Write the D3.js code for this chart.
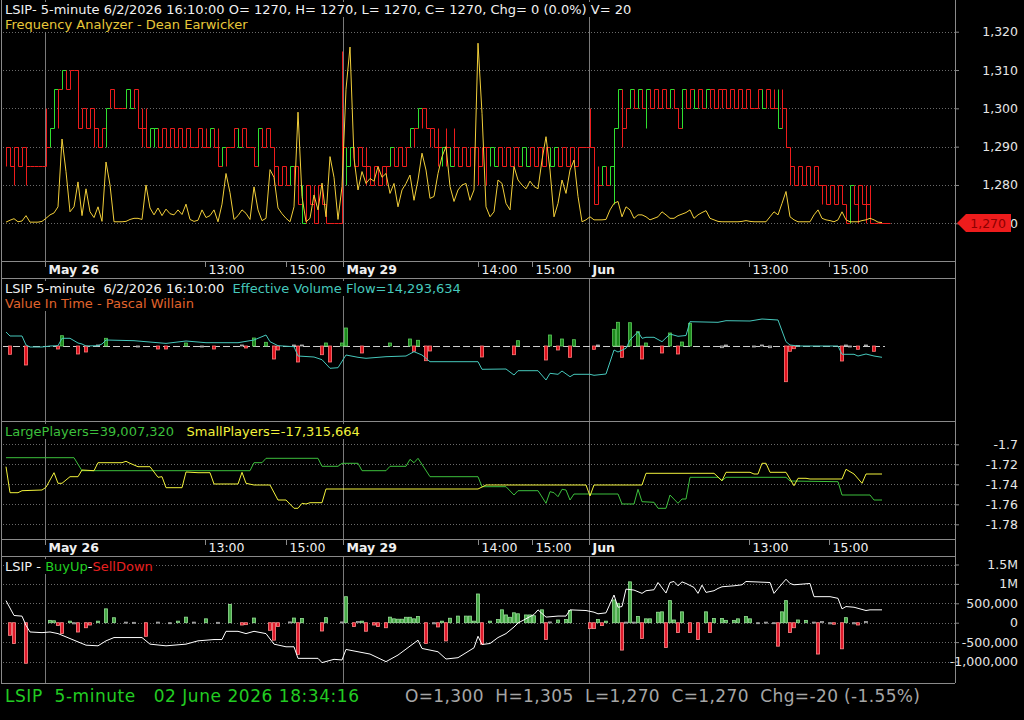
<!DOCTYPE html>
<html>
<head>
<meta charset="utf-8">
<script src="https://cdn.jsdelivr.net/npm/d3@7"></script>
<style>
  html, body { margin: 0; padding: 0; background: #000; }
  svg { display: block; }
  text { white-space: pre; }
</style>
</head>
<body>
<svg id="chart" width="1024" height="720"></svg>
<script>
// ---- price bars (5-minute), bar index 0..219 ----
const hi = [
1290,1290,1290,1290,1290,1290,1285,1285,1285,1285,
1300,1295,1305,1305,1310,1310,1310,1310,1310,1300,
1300,1300,1300,1295,1295,1300,1305,1305,1300,1300,
1305,1305,1305,1305,1300,1300,1295,1295,1295,1295,
1295,1295,1295,1295,1295,1295,1295,1290,1295,1295,
1295,1295,1295,1295,1290,1290,1290,1295,1295,1295,
1295,1290,1290,1295,1295,1295,1295,1290,1285,1285,
1285,1285,1285,1285,1280,1280,1280,1280,1280,1280,
1275,1270,1270,1270,1315,1290,1290,1290,1290,1290,
1290,1285,1285,1285,1285,1285,1290,1290,1290,1290,
1290,1295,1295,1300,1300,1300,1295,1295,1295,1290,
1295,1290,1295,1290,1290,1290,1290,1290,1290,1290,
1290,1290,1290,1290,1290,1290,1290,1290,1290,1290,
1290,1290,1290,1290,1290,1290,1290,1290,1290,1290,
1290,1290,1290,1290,1290,1290,1300,1290,1285,1285,
1285,1285,1295,1305,1305,1300,1305,1305,1305,1305,
1305,1305,1305,1305,1305,1305,1305,1305,1300,1305,
1305,1305,1305,1305,1305,1305,1305,1305,1305,1305,
1305,1305,1305,1305,1305,1305,1305,1300,1305,1305,
1305,1305,1305,1305,1305,1300,1290,1285,1285,1285,
1285,1285,1285,1285,1280,1280,1280,1280,1280,1280,
1275,1280,1280,1280,1280,1280,1280,1270,1270,1270];
const lo = [
1285,1285,1280,1285,1285,1280,1285,1285,1285,1285,
1285,1290,1295,1295,1305,1305,1305,1310,1295,1295,
1295,1295,1290,1290,1290,1290,1300,1300,1300,1300,
1300,1300,1300,1295,1290,1290,1290,1290,1290,1290,
1290,1290,1290,1290,1290,1290,1290,1290,1290,1290,
1290,1290,1290,1285,1285,1285,1290,1290,1290,1290,
1290,1290,1285,1285,1290,1290,1290,1280,1280,1280,
1280,1280,1280,1275,1270,1270,1275,1270,1270,1275,
1270,1270,1270,1270,1270,1280,1285,1285,1285,1285,
1280,1280,1280,1280,1280,1280,1285,1285,1285,1285,
1285,1290,1290,1295,1295,1295,1290,1290,1285,1285,
1285,1285,1285,1285,1285,1285,1285,1285,1280,1285,
1280,1285,1285,1285,1285,1285,1285,1285,1285,1285,
1285,1285,1285,1285,1285,1285,1285,1285,1285,1285,
1285,1285,1285,1285,1290,1290,1290,1275,1275,1280,
1280,1280,1275,1295,1290,1295,1300,1300,1300,1300,
1295,1300,1300,1300,1300,1300,1300,1300,1295,1295,
1300,1300,1300,1300,1300,1300,1300,1300,1300,1300,
1300,1300,1300,1300,1300,1300,1300,1300,1300,1300,
1300,1300,1300,1295,1295,1290,1280,1280,1280,1280,
1280,1280,1280,1280,1275,1275,1275,1275,1275,1275,
1270,1270,1275,1270,1275,1270,1270,1270,1270,1270];
const cl = [
1290,1285,1290,1285,1290,1285,1285,1285,1285,1285,
1290,1295,1305,1305,1310,1305,1310,1310,1295,1300,
1295,1300,1295,1290,1295,1300,1305,1300,1300,1300,
1305,1300,1305,1295,1295,1290,1295,1295,1290,1295,
1290,1295,1290,1295,1290,1295,1290,1290,1295,1290,
1290,1295,1290,1285,1290,1290,1290,1295,1290,1295,
1290,1290,1285,1295,1290,1295,1290,1285,1280,1285,
1280,1285,1285,1275,1270,1280,1275,1270,1280,1275,
1270,1270,1270,1270,1290,1285,1290,1285,1290,1285,
1285,1280,1285,1280,1285,1285,1290,1285,1290,1285,
1290,1295,1295,1300,1300,1295,1295,1290,1290,1290,
1290,1285,1290,1285,1290,1285,1290,1290,1285,1290,
1290,1290,1285,1290,1285,1290,1285,1290,1285,1290,
1285,1290,1285,1290,1285,1290,1285,1290,1285,1290,
1285,1290,1285,1290,1290,1290,1290,1275,1280,1285,
1280,1285,1295,1305,1295,1300,1305,1300,1305,1300,
1305,1300,1305,1300,1305,1300,1305,1300,1295,1305,
1300,1305,1300,1305,1300,1305,1305,1300,1305,1305,
1300,1305,1300,1305,1300,1305,1300,1300,1305,1300,
1305,1300,1300,1295,1300,1290,1285,1280,1285,1280,
1285,1280,1285,1280,1280,1275,1280,1275,1280,1275,
1270,1280,1275,1280,1275,1275,1270,1270,1270,1270];
// bars drawn green (up), all others red
const greenBars = [11,12,14,25,30,31,36,37,51,54,58,63,71,74,85,86,96,101,103,109,111,
  121,122,129,130,136,137,149,151,152,153,156,158,160,166,169,172,175,189,193,211];

// Frequency Analyzer (plotted on the price scale)
const freq = [
1270.3,1270.8,1271.2,1270.4,1270.6,1272,1270.3,1270.3,1270.3,1270.5,
1271.3,1272.2,1272.7,1274.3,1292,1283.5,1273,1274.3,1280.8,1272,
1279,1273,1271.5,1274.3,1270.5,1286,1280,1270.4,1270.4,1270.4,
1270.5,1271,1271.3,1271.3,1271,1280,1274,1272.2,1274,1272,
1273.7,1272.5,1272.2,1273.5,1272.3,1275,1271,1270.5,1270.8,1273.5,
1271.5,1272,1273.5,1270.4,1275,1283,1278,1271,1272,1273.5,
1272.6,1271,1279.5,1273.5,1270.7,1271.3,1284,1282,1274,1272.5,
1271.3,1270.4,1274.3,1299,1277,1270.4,1271.3,1277.4,1273.5,1280.5,
1271.7,1287.4,1282,1271,1279.6,1305,1316,1287,1278.7,1283.5,
1280.4,1281.7,1281,1284.8,1282,1283,1277.8,1280.4,1274.3,1278.7,
1280.4,1282.6,1276,1281.3,1288.3,1283.9,1276.5,1277,1283,1287.4,
1290,1279.6,1275.7,1278.7,1280,1280.4,1276,1278.7,1317,1298.7,
1274.3,1271.7,1273,1281.3,1280.4,1275.2,1273.5,1284.8,1281.3,1280,
1279,1281,1279.6,1279,1286.5,1292.6,1283.9,1271.7,1275.2,1281.3,
1277.8,1283.9,1286.5,1277,1270.4,1270.9,1271.7,1270.9,1270.9,1270.9,
1271,1273.5,1275.2,1275.7,1271.7,1274.3,1273.5,1271.3,1272.2,1272.2,
1271.7,1270.9,1271.3,1271.7,1273,1272.2,1271.3,1271.3,1272,1272.4,
1272.8,1273.5,1271.3,1272.2,1272.8,1273.3,1271.3,1270.9,1270.5,1270.4,
1270.4,1270.4,1270.4,1270.4,1270.5,1270.7,1270.5,1270.4,1270.4,1270.4,
1270.4,1271.7,1273,1272.2,1275.2,1278.3,1271.7,1270.9,1270.4,1270.4,
1270.4,1270.4,1272.2,1273.5,1271.3,1270.9,1270.7,1270.4,1270.9,1273,
1270.9,1270.4,1270.4,1270.4,1270.7,1270.9,1271.3,1270.9,1270.3,1270.2];

// Value In Time histogram: [bar, value]
const vitBars = [[1,-8.3],[5,-19],[13,-3],[14,10.3],[18,-8],[20,-6],[23,1],[25,7.7],[33,-1],[38,-3],
  [40,-3],[45,3],[49,-1],[52,-3],[59,1],[60,-2],[62,8],[65,3.7],[67,-13],[68,-4],[72,1],[73,-16],
  [74,1],[79,-8.7],[80,3],[81,-16],[84,3],[85,18],[89,-7],[96,3],[101,7],[102,-5.3],[103,5.7],
  [105,-14.7],[106,-5],[119,-11],[127,-8.7],[128,5.3],[135,-14],[136,11],[138,-4],[139,7],
  [141,-11.3],[142,6.3],[147,-3.3],[148,1],[152,16.7],[153,23.7],[154,-11.3],[156,23.3],[158,14.3],
  [159,-13],[160,3],[164,-7],[166,13],[168,-8],[169,4],[171,22.7],[179,-1.7],[180,1],[187,-1],
  [189,1],[191,-1.7],[195,-35.7],[196,-5.3],[197,-2.7],[198,0.5],[209,-15],[210,1],[211,-0.7],
  [213,-3.3],[215,1],[217,-5.3]];
// Effective Volume Flow line: [bar, value]
const evf = [[0,14],[1,10],[4,10],[5,1],[6,-1],[9,-1],[11,0],[13,0.3],[14,7.7],[16,7.7],[18,3],
  [19,2],[20,0],[23,0.3],[24,2],[25,6],[32,5.3],[40,2.6],[45,5],[50,3.3],[58,3.3],[62,6],[65,11],
  [66,4.3],[68,0.3],[72,-0.7],[73,-10],[77,-11],[79,-13.7],[81,-22.3],[83,-21.7],[85,-9],[88,-11.3],
  [90,-12.3],[95,-10.7],[100,-10],[102,-5.7],[104,-9],[106,-15.7],[118,-15.7],[119,-23.3],[125,-23],
  [127,-29],[128,-24.7],[133,-24.7],[135,-34],[136,-27.3],[138,-28.3],[139,-25],[141,-30.7],
  [142,-28.3],[146,-28.3],[147,-29.3],[150,-28],[152,-4],[153,-6],[155,-2.3],[156,6],[158,14.3],
  [159,7.7],[160,8.7],[162,8.7],[164,4.3],[166,12],[168,9.7],[170,10.5],[171,24.3],[178,23.7],
  [180,25.3],[186,25],[189,27],[193,26],[195,4.3],[196,1],[198,0],[208,0],[209,-8.3],[212,-8.3],
  [213,-10],[215,-8],[217,-10],[219,-11.3]];

// Large / Small players: [bar, value]
const largePlayers = [[0,-1.7134],[17,-1.7134],[18,-1.72],[19,-1.7264],[61,-1.7264],[62,-1.7184],
  [64,-1.7184],[65,-1.714],[78,-1.714],[79,-1.722],[83,-1.722],[84,-1.719],[88,-1.719],[89,-1.7264],
  [95,-1.7264],[96,-1.722],[100,-1.722],[101,-1.715],[102,-1.7184],[103,-1.714],[106,-1.7324],
  [118,-1.7324],[119,-1.7424],[125,-1.7424],[127,-1.7507],[128,-1.7464],[133,-1.7464],[135,-1.759],
  [136,-1.7474],[137,-1.7484],[138,-1.7524],[139,-1.745],[140,-1.7457],[141,-1.7557],[142,-1.7497],
  [153,-1.7497],[154,-1.7597],[157,-1.7597],[158,-1.745],[159,-1.7574],[162,-1.758],[163,-1.764],
  [165,-1.764],[166,-1.7507],[168,-1.759],[169,-1.7547],[170,-1.7547],[171,-1.733],[178,-1.733],
  [179,-1.7364],[180,-1.733],[195,-1.733],[196,-1.7367],[208,-1.7374],[209,-1.7507],[216,-1.7507],
  [217,-1.7557],[219,-1.7557]];
const smallPlayers = [[0,-1.7224],[1,-1.7484],[3,-1.7484],[4,-1.7464],[9,-1.7457],[10,-1.743],
  [11,-1.7357],[12,-1.7284],[13,-1.739],[14,-1.739],[16,-1.7324],[18,-1.7324],[19,-1.7257],
  [22,-1.7264],[23,-1.7184],[29,-1.7184],[30,-1.717],[31,-1.719],[33,-1.7224],[36,-1.7224],
  [38,-1.733],[39,-1.7324],[40,-1.7434],[44,-1.7434],[45,-1.7277],[48,-1.7284],[51,-1.7284],
  [52,-1.7397],[58,-1.7397],[59,-1.728],[60,-1.739],[62,-1.7407],[66,-1.7407],[68,-1.7557],
  [70,-1.7557],[72,-1.764],[73,-1.764],[74,-1.759],[75,-1.7597],[76,-1.7584],[79,-1.7584],
  [80,-1.7447],[118,-1.7447],[120,-1.7407],[145,-1.7407],[146,-1.7517],[147,-1.7407],[159,-1.7407],
  [160,-1.729],[177,-1.729],[179,-1.7364],[180,-1.728],[186,-1.728],[187,-1.7297],[188,-1.7297],
  [189,-1.719],[190,-1.719],[191,-1.728],[195,-1.728],[197,-1.7414],[198,-1.734],[200,-1.734],
  [201,-1.7347],[209,-1.7347],[210,-1.725],[212,-1.7297],[214,-1.739],[215,-1.7297],[219,-1.7297]];

// BuyUp-SellDown histogram (thousands): [bar, value]
const buyBars = [[1,-325],[2,-535],[5,-1045],[11,60],[12,50],[13,-70],[14,-280],[16,40],[17,-30],
  [18,-240],[20,-130],[21,-60],[23,40],[25,357],[27,128],[30,15],[32,10],[35,-350],[38,15],[41,-15],
  [43,40],[45,143],[47,15],[50,100],[53,10],[56,467],[59,-60],[60,-50],[62,120],[66,-196],[67,-450],
  [68,-100],[71,20],[72,120],[73,-816],[74,110],[79,-214],[80,130],[84,20],[85,670],[87,-100],
  [88,30],[89,40],[90,-220],[92,-60],[93,-100],[95,-130],[96,143],[97,100],[98,90],[99,90],
  [100,140],[101,140],[102,100],[103,160],[105,-535],[107,-30],[108,-110],[109,40],[110,-470],
  [111,115],[113,170],[115,170],[116,170],[117,40],[118,740],[119,-553],[121,40],[123,80],[124,332],
  [125,200],[126,140],[127,255],[128,230],[130,200],[131,200],[132,180],[134,332],[135,-433],
  [136,20],[138,70],[140,80],[141,314],[146,-153],[147,-153],[148,80],[149,-75],[150,40],[152,587],
  [153,500],[154,-706],[155,15],[156,1053],[157,15],[158,160],[159,-408],[160,100],[161,100],
  [163,270],[164,280],[165,-638],[166,569],[167,70],[168,-255],[169,280],[171,-255],[173,-433],
  [175,280],[176,-255],[177,110],[179,110],[180,60],[182,60],[183,100],[185,160],[186,100],
  [188,-20],[190,15],[192,-15],[193,-605],[194,280],[195,569],[196,-255],[197,-130],[198,70],
  [200,60],[202,15],[203,-808],[204,30],[206,-30],[207,-40],[209,-673],[210,130],[212,-30],
  [213,-60],[215,30]];
// cumulative line (thousands): [bar, value]
const buyLine = [[0,569],[2,186],[4,169],[5,-69],[6,-239],[9,-256],[11,-239],[13,-281],[15,-366],
  [18,-494],[20,-579],[23,-596],[25,-468],[27,-383],[34,-383],[36,-553],[40,-596],[45,-553],
  [48,-468],[52,-434],[54,-434],[55,-222],[58,-222],[60,-281],[62,-222],[65,-281],[67,-553],
  [70,-621],[72,-621],[73,-919],[78,-919],[79,-1029],[82,-944],[84,-961],[85,-689],[88,-749],
  [91,-808],[95,-1004],[98,-834],[103,-451],[104,-664],[106,-706],[108,-749],[110,-936],[113,-902],
  [117,-647],[118,-349],[119,-562],[121,-536],[123,-383],[125,-281],[127,-111],[128,-9],[130,101],
  [132,212],[133,331],[135,144],[138,171],[140,171],[141,331],[145,314],[147,271],[148,229],
  [150,254],[151,484],[152,713],[153,399],[154,416],[155,866],[157,841],[159,756],[160,824],
  [162,849],[163,1036],[165,764],[166,1036],[167,1062],[168,951],[169,1053],[170,1011],[172,909],
  [173,756],[174,968],[175,781],[177,824],[178,883],[179,926],[182,951],[184,977],[185,1062],
  [191,1036],[192,756],[193,883],[195,1121],[196,1011],[197,977],[201,1011],[202,671],[206,671],
  [208,628],[209,356],[210,416],[212,399],[215,314],[216,331],[219,331]];

// time axis
const tickPos = [9.75, 49.75, 70, 84.25, 118, 131.5, 145.75, 185.75, 205.75];
const tickLabels = ['May 26', '13:00', '15:00', 'May 29', '14:00', '15:00', 'Jun', '13:00', '15:00'];
const dayTicks = [9.75, 84.25, 145.75];

// value axes
const priceTicks = [1320, 1310, 1300, 1290, 1280, 1270];
const playerTicks = [-1.7, -1.72, -1.74, -1.76, -1.78];
const playerLabels = ['-1.7', '-1.72', '-1.74', '-1.76', '-1.78'];
const buyTicks = [1500, 1000, 500, 0, -500, -1000];
const buyLabels = ['1.5M', '1M', '500,000', '0', '-500,000', '-1,000,000'];
const lastPrice = 1270;

// ---------------------------------------------------------------
const FONT = '"DejaVu Sans", Verdana, sans-serif';
const svg = d3.select('#chart').attr('font-family', FONT);
svg.append('rect').attr('width', 1024).attr('height', 720).attr('fill', '#000');

const plotL = 1, plotR = 955;
const x = d3.scaleLinear().domain([0, 219]).range([6, 882]);

const yPrice = d3.scaleLinear().domain([1270, 1320]).range([223.3, 31.7]);
const yVit = d3.scaleLinear().domain([-60, 60]).range([406, 286]);
const yPl = d3.scaleLinear().domain([-1.78, -1.7]).range([524.3, 444.3]);
const yBuy = d3.scaleLinear().domain([-1000, 1500]).range([661.5, 564.5]);

const panels = [
  { top: 0, bottom: 261 },
  { top: 278, bottom: 421 },
  { top: 421, bottom: 539 },
  { top: 556, bottom: 683 }
];

const GREEN = '#2fe02f', RED = '#ee1c1c';

// gridlines
function grid(scale, values) {
  svg.append('g').selectAll('line').data(values).join('line')
    .attr('x1', plotL + 2).attr('x2', plotR)
    .attr('y1', d => Math.round(scale(d)) + 0.5).attr('y2', d => Math.round(scale(d)) + 0.5)
    .attr('stroke', '#6a6a6a').attr('stroke-dasharray', '1,2');
}
grid(yPrice, priceTicks);
grid(yPl, playerTicks);
grid(yBuy, buyTicks);

// day separators
panels.forEach(p => {
  svg.append('g').selectAll('line').data(dayTicks).join('line')
    .attr('x1', d => Math.round(x(d)) + 0.5).attr('x2', d => Math.round(x(d)) + 0.5)
    .attr('y1', p.top).attr('y2', p.bottom)
    .attr('stroke', '#7a7a7a');
});

// ---- panel 1 : price steps ----
const gPrice = svg.append('g');
const isGreen = new Set(greenBars);
const bars = d3.range(hi.length);
gPrice.selectAll('path').data(bars).join('path')
  .attr('d', i => {
    const xi = Math.round(x(i)) + 0.5;
    const xn = i < hi.length - 1 ? Math.round(x(i + 1)) + 0.5 : xi + 8;
    const yc = Math.round(yPrice(cl[i])) + 0.5;
    return `M${xi},${Math.round(yPrice(lo[i])) + 0.5}V${Math.round(yPrice(hi[i])) + 0.5}M${xi},${yc}H${xn}`;
  })
  .attr('fill', 'none')
  .attr('stroke', i => isGreen.has(i) ? GREEN : RED)
  .attr('stroke-width', 1);

gPrice.append('path').datum(freq)
  .attr('d', d3.line().x((d, i) => x(i)).y(d => yPrice(d)))
  .attr('fill', 'none').attr('stroke', '#f2cf3a').attr('stroke-width', 1);

// ---- panel 2 : value in time + EVF ----
const gVit = svg.append('g');
gVit.append('line')
  .attr('x1', 3).attr('x2', x(219) + 3)
  .attr('y1', Math.round(yVit(0)) + 0.5).attr('y2', Math.round(yVit(0)) + 0.5)
  .attr('stroke', '#cfcfcf').attr('stroke-dasharray', '7,3');
gVit.selectAll('rect').data(vitBars).join('rect')
  .attr('x', d => Math.round(x(d[0])) - 1.5)
  .attr('width', 3)
  .attr('y', d => Math.min(yVit(d[1]), yVit(0)))
  .attr('height', d => Math.max(1, Math.abs(yVit(d[1]) - yVit(0))))
  .attr('fill', d => Math.abs(d[1]) < 2 ? '#555' : d[1] > 0 ? '#1c8a1c' : '#e0101c')
  .attr('stroke', d => Math.abs(d[1]) < 2 ? '#bbb' : d[1] > 0 ? '#5cc85c' : '#ff7a7a')
  .attr('stroke-width', 0.8);
gVit.append('path').datum(evf)
  .attr('d', d3.line().x(d => x(d[0])).y(d => yVit(d[1])))
  .attr('fill', 'none').attr('stroke', '#46c8bc').attr('stroke-width', 1);

// ---- panel 3 : players ----
const gPl = svg.append('g');
gPl.append('path').datum(largePlayers)
  .attr('d', d3.line().x(d => x(d[0])).y(d => yPl(d[1])))
  .attr('fill', 'none').attr('stroke', '#3cbf3c').attr('stroke-width', 1);
gPl.append('path').datum(smallPlayers)
  .attr('d', d3.line().x(d => x(d[0])).y(d => yPl(d[1])))
  .attr('fill', 'none').attr('stroke', '#f2f23c').attr('stroke-width', 1);

// ---- panel 4 : BuyUp - SellDown ----
const gBuy = svg.append('g');
gBuy.selectAll('rect').data(buyBars).join('rect')
  .attr('x', d => Math.round(x(d[0])) - 1.5)
  .attr('width', 3)
  .attr('y', d => Math.min(yBuy(d[1]), yBuy(0)))
  .attr('height', d => Math.max(1, Math.abs(yBuy(d[1]) - yBuy(0))))
  .attr('fill', d => Math.abs(d[1]) < 35 ? '#666' : d[1] > 0 ? '#46a846' : '#e0182a')
  .attr('stroke', d => Math.abs(d[1]) < 35 ? '#aaa' : d[1] > 0 ? '#96e096' : '#ff8c8c')
  .attr('stroke-width', 0.8);
gBuy.append('path').datum(buyLine)
  .attr('d', d3.line().x(d => x(d[0])).y(d => yBuy(d[1])))
  .attr('fill', 'none').attr('stroke', '#ffffff').attr('stroke-width', 1);

// ---- frames ----
const frame = svg.append('g').attr('stroke', '#8a8a8a').attr('shape-rendering', 'crispEdges');
[261, 278, 421, 539, 556, 683].forEach(y => {
  frame.append('line').attr('x1', plotL).attr('x2', plotR).attr('y1', y + 0.5).attr('y2', y + 0.5);
});
frame.append('line').attr('x1', plotL + 0.5).attr('x2', plotL + 0.5).attr('y1', 0).attr('y2', 683);
frame.append('line').attr('x1', plotR + 0.5).attr('x2', plotR + 0.5).attr('y1', 0).attr('y2', 683);

// ---- right value axes ----
function rightAxis(scale, values, fmt) {
  const g = svg.append('g').attr('transform', `translate(${plotR},0)`)
    .call(d3.axisRight(scale).tickValues(values).tickFormat(fmt).tickSize(4))
    .attr('font-family', FONT).attr('font-size', 12.5);
  g.select('.domain').remove();
  g.selectAll('.tick line').attr('stroke', '#8a8a8a');
  g.selectAll('.tick text').attr('x', 63).attr('text-anchor', 'end').attr('fill', '#e6e6e6');
  return g;
}
rightAxis(yPrice, priceTicks, d3.format(','));
rightAxis(yPl, playerTicks, (d, i) => playerLabels[i]);
rightAxis(yBuy, buyTicks, (d, i) => buyLabels[i]);

// last price tag
const yl = Math.round(yPrice(lastPrice));
svg.append('path')
  .attr('d', `M${plotR + 2},${yl}L${plotR + 11},${yl - 9}H1011V${yl + 9}H${plotR + 11}Z`)
  .attr('fill', '#ee1c1c');
svg.append('text').attr('x', 1006).attr('y', yl + 4.5).attr('text-anchor', 'end')
  .attr('font-size', 12.5).attr('fill', '#8c0000').text(d3.format(',')(lastPrice));

// ---- time axes ----
function timeAxis(y0) {
  const g = svg.append('g').attr('transform', `translate(0,${y0})`)
    .call(d3.axisBottom(x).tickValues(tickPos).tickFormat((d, i) => tickLabels[i]).tickSize(6))
    .attr('font-family', FONT).attr('font-size', 12.5);
  g.select('.domain').remove();
  g.selectAll('.tick line').attr('stroke', '#8a8a8a');
  g.selectAll('.tick text')
    .attr('x', 3).attr('y', 12.5).attr('dy', 0)
    .attr('text-anchor', 'start').attr('fill', '#f0f0f0')
    .attr('font-weight', (d, i) => dayTicks.includes(tickPos[i]) ? 'bold' : 'normal');
}
timeAxis(261);
timeAxis(539);

// ---- titles (text drawn on a black box, like the original) ----
function title(xp, yp, parts, size = 13) {
  const t = svg.append('text').attr('x', xp).attr('y', yp).attr('font-size', size);
  parts.forEach(p => t.append('tspan').attr('fill', p[1]).text(p[0]));
  const b = t.node().getBBox();
  svg.insert('rect', () => t.node())
    .attr('x', b.x - 1).attr('y', b.y).attr('width', b.width + 2).attr('height', b.height)
    .attr('fill', '#000');
  return t;
}
title(5, 14, [['LSIP- 5-minute 6/2/2026 16:10:00 O= 1270, H= 1270, L= 1270, C= 1270, Chg= 0 (0.0%) V= 20', '#f2f2f2']]);
title(5, 29, [['Frequency Analyzer - Dean Earwicker', '#e8c83a']]);
title(5, 293, [['LSIP 5-minute  6/2/2026 16:10:00  ', '#f2f2f2'], ['Effective Volume Flow=14,293,634', '#46c8bc']]);
title(5, 308, [['Value In Time - Pascal Willain', '#e0642c']]);
title(5, 436, [['LargePlayers=39,007,320   ', '#3cbf3c'], ['SmallPlayers=-17,315,664', '#f2f23c']]);
title(5, 571, [['LSIP - ', '#f2f2f2'], ['BuyUp', '#22d022'], ['-', '#f2f2f2'], ['SellDown', '#e82020']]);

// ---- status bar ----
svg.append('text').attr('x', 5).attr('y', 702).attr('font-size', 17)
  .attr('textLength', 354).attr('lengthAdjust', 'spacing')
  .attr('fill', '#22cc22').text('LSIP  5-minute   02 June 2026 18:34:16');
svg.append('text').attr('x', 405).attr('y', 702).attr('font-size', 17)
  .attr('textLength', 515).attr('lengthAdjust', 'spacing')
  .attr('fill', '#a6a6a6').text('O=1,300  H=1,305  L=1,270  C=1,270  Chg=-20 (-1.55%)');
</script>
</body>
</html>
